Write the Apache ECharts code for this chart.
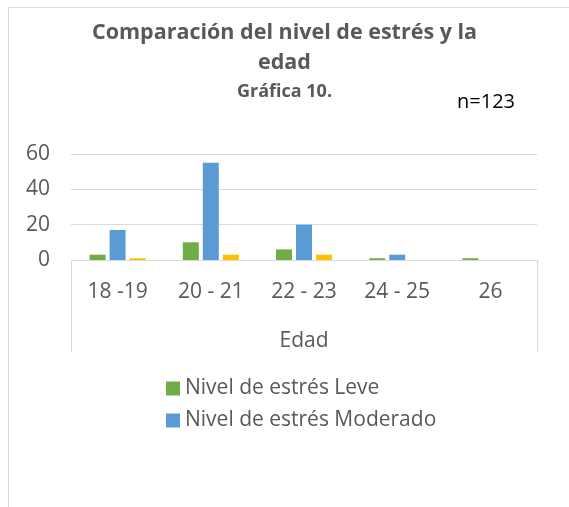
<!DOCTYPE html>
<html>
<head>
<meta charset="utf-8">
<script src="https://cdn.jsdelivr.net/npm/echarts@6/dist/echarts.min.js"></script>
<style>html,body{margin:0;padding:0;background:#fff}#c{width:569px;height:507px}</style>
</head>
<body>
<div id="c"></div>
<script>
var categories = ["18 -19", "20 - 21", "22 - 23", "24 - 25", "26"];
var leve = [3, 10, 6, 1, 1];
var moderado = [17, 55, 20, 3, 0];
var severo = [1, 3, 3, 0, 0];
var yTicks = {min: 0, max: 60, interval: 20};

var FONT = "'Open Sans', sans-serif";
var chart = echarts.init(document.getElementById('c'));
chart.setOption({
  animation: false,
  textStyle: {fontFamily: FONT},
  title: [{
    text: "Comparación del nivel de estrés y la\nedad",
    subtext: "Gráfica 10.",
    left: 'center', top: 13, itemGap: 5,
    textStyle: {fontFamily: FONT, fontSize: 21.5, fontWeight: 'bold', color: '#595959', lineHeight: 30},
    subtextStyle: {fontFamily: FONT, fontSize: 18, fontWeight: 'bold', color: '#595959'}
  }, {
    text: "n=123", left: 452, top: 87,
    textStyle: {fontFamily: FONT, fontSize: 20, fontWeight: 'normal', color: '#000'}
  }],
  legend: {
    orient: 'vertical', left: 161, top: 373, itemWidth: 14, itemHeight: 14, itemGap: 11,
    icon: 'rect',
    data: ["Nivel de estrés Leve", "Nivel de estrés Moderado"],
    textStyle: {fontFamily: FONT, fontSize: 21, color: '#595959'}
  },
  grid: {left: 71, right: 32, top: 154, bottom: 247, containLabel: false},
  xAxis: {
    type: 'category', data: categories,
    axisLine: {show: false},
    axisTick: {show: true, length: 92, lineStyle: {color: '#d9d9d9'}, interval: function (i) { return i === 0; }},
    axisLabel: {fontFamily: FONT, fontSize: 21, color: '#595959', margin: 22},
    name: "Edad", nameLocation: 'middle', nameGap: 71,
    nameTextStyle: {fontFamily: FONT, fontSize: 21, color: '#595959'}
  },
  yAxis: {
    type: 'value', min: yTicks.min, max: yTicks.max, interval: yTicks.interval,
    axisLine: {show: false}, axisTick: {show: false},
    axisLabel: {fontFamily: FONT, fontSize: 21, color: '#595959', margin: 21},
    splitLine: {lineStyle: {color: '#d9d9d9', width: 1}}
  },
  series: [
    {name: "Nivel de estrés Leve", type: 'bar', data: leve, itemStyle: {color: '#70AD47'}, barWidth: 16, barGap: '25%'},
    {name: "Nivel de estrés Moderado", type: 'bar', data: moderado, itemStyle: {color: '#5B9BD5'}, barWidth: 16, barGap: '25%'},
    {name: "Nivel de estrés Severo", type: 'bar', data: severo, itemStyle: {color: '#FFC000'}, barWidth: 16, barGap: '25%'}
  ],
  graphic: [
    {type: 'line', shape: {x1: 8, y1: 7.5, x2: 569, y2: 7.5}, style: {stroke: '#d9d9d9', lineWidth: 1}},
    {type: 'line', shape: {x1: 8.5, y1: 7, x2: 8.5, y2: 507}, style: {stroke: '#d9d9d9', lineWidth: 1}}
  ]
});
</script>
</body>
</html>
